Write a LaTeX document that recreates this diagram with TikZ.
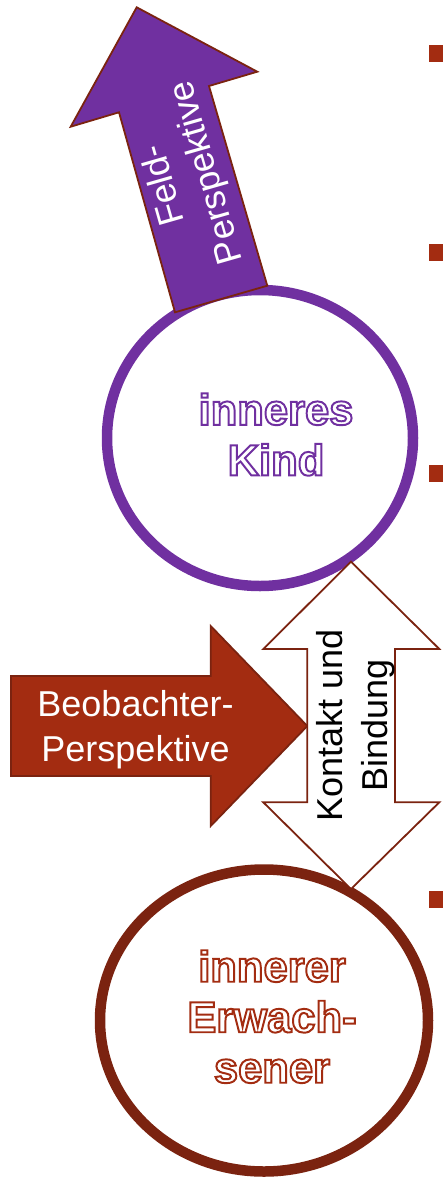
\documentclass[tikz,border=0pt]{standalone}
\usepackage{fontspec}
\setmainfont{Liberation Sans}
\newfontfamily\ringfont[FakeBold=4.5]{Liberation Sans Bold}
\usetikzlibrary{shapes.geometric}

\definecolor{kidpurple}{HTML}{7030A0}
\definecolor{rust}{HTML}{A32C11}
\definecolor{darkbrown}{HTML}{7B2310}

\newcommand{\outlined}[2]{\special{pdf:bcolor [1 1 1] [#1]}#2\special{pdf:ecolor}}
\newcommand{\kidword}[1]{\outlined{0.439 0.188 0.627}{#1}}
\newcommand{\adultword}[1]{\outlined{0.639 0.173 0.067}{#1}}

\begin{document}
\begin{tikzpicture}[
  x=1pt, y=-1pt,
  ring/.style={draw=#1, line width=10.5pt, ellipse, inner sep=0pt},
  blockarrow/.style={draw=darkbrown, line width=1.8pt, line join=miter},
  arrowtext/.style={text=white, align=center, inner sep=0pt, font=\fontsize{36}{45}\selectfont},
  circletext/.style={text=white, align=center, inner sep=0pt, font=\ringfont\fontsize{43.5}{50.5}\selectfont},
  bullet/.style={fill=rust, minimum size=17pt, inner sep=0pt}
]
\useasboundingbox (0,0) rectangle (443,1178);

\node[ring=kidpurple, minimum width=306pt, minimum height=296pt] (kind) at (260,438) {};
\node[ring=darkbrown, minimum width=328pt, minimum height=302pt] (adult) at (264,1020.5) {};

\draw[blockarrow, fill=kidpurple] (136.7,7.3) -- (257.3,71.7) -- (209,86) -- (267.3,285.7)
  -- (175,312.3) -- (119,112.3) -- (70.7,126.7) -- cycle;
\draw[blockarrow, fill=rust] (11,676) -- (210.7,676) -- (210.7,626) -- (307.3,726)
  -- (210.7,826) -- (210.7,776) -- (11,776) -- cycle;
\draw[blockarrow, fill=white] (351,561.7) -- (439.3,649) -- (395,649) -- (395,802.3)
  -- (439.3,802.3) -- (351,889) -- (263.3,802.3) -- (307.3,802.3) -- (307.3,649)
  -- (263.3,649) -- cycle;

\node[arrowtext, rotate=106] (feld) at (186.2,178.4) {Feld-\\Perspektive};
\node[arrowtext] (beob) at (135.5,730) {Beobachter-\\Perspektive};
\node[arrowtext, text=black, rotate=90] (kontakt) at (356,725.5) {Kontakt und\\Bindung};

\node[circletext] (kindtext) at (276,434.5) {\kidword{inneres}\\\kidword{Kind}};
\node[circletext] (adulttext) at (272,1016.7) {\adultword{innerer}\\\adultword{Erwach-}\\\adultword{sener}};

\node[bullet] (b1) at (437.5,53.5) {};
\node[bullet] (b2) at (437.5,252) {};
\node[bullet] (b3) at (437.5,473.5) {};
\node[bullet] (b4) at (437.5,899.5) {};
\end{tikzpicture}
\end{document}
